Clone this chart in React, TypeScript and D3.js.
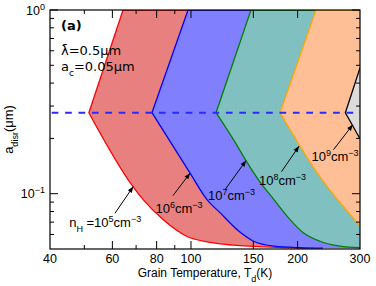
import React from 'react';
import * as d3 from 'd3';

// ---- data ----
const X_DOMAIN = [40, 300];
const Y_DOMAIN = [0.05, 1];
const X_TICK_LABELS = [40, 60, 80, 100, 150, 200, 300];
const X_MAJOR_TICKS = [60, 80, 100, 150, 200];
const X_MINOR_TICKS = [50, 70, 90];
const Y_MAJOR_TICKS = [0.1, 1];
const Y_MINOR_TICKS = [0.06, 0.07, 0.08, 0.09, 0.2, 0.3, 0.4, 0.5, 0.6, 0.7, 0.8, 0.9];
const A_DASH = 0.276;

// upper (straight) and lower (curved) parts of each boundary, [T, a]
const upper1e5 = [[64.3, 1], [51.5, 0.276]];
const lower1e5 = [[51.5, 0.276], [68.6, 0.1093], [73.3, 0.0929], [83.4, 0.0723], [97.5, 0.0585], [113.2, 0.0543], [131.4, 0.0525], [175, 0.0511], [210, 0.0507]];
const upper1e6 = [[98.1, 1], [77.6, 0.276]];
const lower1e6 = [[77.6, 0.276], [99.4, 0.1294], [111, 0.0929], [121.5, 0.0779], [135.8, 0.063], [149.7, 0.0553], [171.5, 0.0518], [203.1, 0.0508], [235.8, 0.0505]];
const upper1e7 = [[147.7, 1], [117.7, 0.276]];
const lower1e7 = [[117.7, 0.276], [133.4, 0.1895], [143, 0.1513], [155.6, 0.1178], [171.5, 0.0929], [190.4, 0.0723], [207.1, 0.0615], [231.3, 0.0551], [263.5, 0.0518], [300, 0.0508]];
const upper1e8 = [[225.3, 1], [178.4, 0.276]];
const lower1e8 = [[178.4, 0.276], [203.1, 0.1819], [231.3, 0.1233], [258.4, 0.0936], [279.3, 0.0785], [300, 0.0667]];
const upper1e9 = [[300, 0.4842], [272.8, 0.276]];
const lower1e9 = [[272.8, 0.276], [300, 0.1992]];

const REGIONS = [
  { up: upper1e5, low: lower1e5, fill: '#E88080', stroke: '#FF0000', closed: false },
  { up: upper1e6, low: lower1e6, fill: '#8080FF', stroke: '#0000FF', closed: false },
  { up: upper1e7, low: lower1e7, fill: '#80C0C0', stroke: '#008000', closed: false },
  { up: upper1e8, low: lower1e8, fill: '#FFBF96', stroke: '#FFA500', closed: false },
  { up: upper1e9, low: lower1e9, fill: '#DCDCDC', stroke: '#000000', closed: true },
];

// annotations: tail [T,a], head [T,a], label anchor [T,a], exponent
const ARROW_TAILS = [[61.0, 0.0782], [89.0, 0.0977], [124.8, 0.1053], [180.1, 0.1318], [252.5, 0.1736]];
const ARROW_HEADS = [[68.7, 0.1093], [99.4, 0.1294], [143, 0.1513], [201.8, 0.1814], [286.2, 0.2373]];
const LABEL_POS = [[45.3, 0.0655], [79.4, 0.0787], [111.7, 0.0929], [155.6, 0.112], [218.9, 0.1513]];
const LABEL_EXP = ['5', '6', '7', '8', '9'];

const SANS = 'Liberation Sans, Arial, Helvetica, sans-serif';
const DEJAVU = 'DejaVu Sans, sans-serif';

export default function App() {
  const W = 376, H = 286;
  const L = 50, R = 360, T = 10, B = 249;
  const x = d3.scaleLog().domain(X_DOMAIN).range([L, R]);
  const y = d3.scaleLog().domain(Y_DOMAIN).range([B, T]);

  const toPx = (pts: number[][]) => pts.map((p) => [x(p[0]), y(p[1])] as [number, number]);
  const straight = d3.line();
  const curved = d3.line().curve(d3.curveMonotoneX);

  const regionPaths = REGIONS.map((r) => {
    const up = toPx(r.up);
    const low = toPx(r.low);
    const upD = straight(up) as string;
    const lowD = (curved(low) as string).replace(/^M/, 'L');
    const last = low[low.length - 1];
    let fillD: string;
    let lineD: string;
    if (r.closed) {
      fillD = upD + lowD + 'Z';
      lineD = upD + lowD;
    } else {
      fillD = upD + lowD + `L${R},${last[1]}L${R},${T}Z`;
      lineD = `M${R},${T}` + upD.replace(/^M/, 'L') + lowD;
    }
    return { fillD, lineD, ...r };
  });

  const sup = (s: string) => (
    <tspan baselineShift="super" fontSize="9">{s}</tspan>
  );

  return (
    <svg width={W} height={H} style={{ display: 'block', position: 'absolute', left: 0, top: 0 }}>
      <defs>
        <clipPath id="plot">
          <rect x={L} y={T} width={R - L} height={B - T} />
        </clipPath>
        <marker id="ah" viewBox="0 0 10 10" refX="10" refY="5" markerWidth="7" markerHeight="6" markerUnits="userSpaceOnUse" orient="auto">
          <path d="M0,1 L10,5 L0,9 Z" fill="#000" />
        </marker>
      </defs>
      <rect width={W} height={H} fill="#fff" />
      <g clipPath="url(#plot)">
        {regionPaths.map((r, i) => (
          <g key={i}>
            <path d={r.fillD} fill={r.fill} stroke="none" />
            <path d={r.lineD} fill="none" stroke={r.stroke} strokeWidth={1.3} />
          </g>
        ))}
        <line x1={L} x2={R} y1={y(A_DASH)} y2={y(A_DASH)} stroke="#2A2AFF" strokeWidth={2} strokeDasharray="6.7,6.7" strokeDashoffset={-1.7} />
      </g>

      {/* arrows */}
      {ARROW_TAILS.map((t, i) => (
        <line key={i} x1={x(t[0])} y1={y(t[1])} x2={x(ARROW_HEADS[i][0])} y2={y(ARROW_HEADS[i][1])} stroke="#000" strokeWidth={1} markerEnd="url(#ah)" />
      ))}
      {LABEL_POS.map((p, i) => (
        <text key={i} x={x(p[0])} y={y(p[1])} fontFamily={SANS} fontSize={13} fill="#000">
          {i === 0 ? (
            <>
              n<tspan baselineShift="sub" fontSize="9">H</tspan> =10{sup(LABEL_EXP[i])}cm{sup('−3')}
            </>
          ) : (
            <>
              10{sup(LABEL_EXP[i])}cm{sup('−3')}
            </>
          )}
        </text>
      ))}

      {/* inset text */}
      <text x={61} y={30} fontFamily={DEJAVU} fontWeight="bold" fontSize={13}>(a)</text>
      <text x={61} y={55} fontFamily={DEJAVU} fontSize={13}>{'λ\u0304=0.5μm'}</text>
      <text x={61} y={71} fontFamily={DEJAVU} fontSize={13}>
        a<tspan baselineShift="sub" fontSize="9">c</tspan>=0.05μm
      </text>

      {/* frame */}
      <rect x={L} y={T} width={R - L} height={B - T} fill="none" stroke="#000" strokeWidth={1.2} />

      {/* x ticks */}
      {X_MAJOR_TICKS.map((v) => (
        <g key={'xm' + v}>
          <line x1={x(v)} x2={x(v)} y1={B} y2={B - 8} stroke="#000" strokeWidth={1} />
          <line x1={x(v)} x2={x(v)} y1={T} y2={T + 8} stroke="#000" strokeWidth={1} />
        </g>
      ))}
      {X_MINOR_TICKS.map((v) => (
        <g key={'xn' + v}>
          <line x1={x(v)} x2={x(v)} y1={B} y2={B - 4} stroke="#000" strokeWidth={1} />
          <line x1={x(v)} x2={x(v)} y1={T} y2={T + 4} stroke="#000" strokeWidth={1} />
        </g>
      ))}
      {X_TICK_LABELS.map((v) => (
        <text key={'xl' + v} x={x(v)} y={262.5} textAnchor="middle" fontFamily={SANS} fontSize={12.5}>{v}</text>
      ))}

      {/* y ticks */}
      {Y_MAJOR_TICKS.map((v) => (
        <g key={'ym' + v}>
          <line x1={L} x2={L + 8} y1={y(v)} y2={y(v)} stroke="#000" strokeWidth={1} />
          <line x1={R} x2={R - 8} y1={y(v)} y2={y(v)} stroke="#000" strokeWidth={1} />
        </g>
      ))}
      {Y_MINOR_TICKS.map((v) => (
        <g key={'yn' + v}>
          <line x1={L} x2={L + 4} y1={y(v)} y2={y(v)} stroke="#000" strokeWidth={1} />
          <line x1={R} x2={R - 4} y1={y(v)} y2={y(v)} stroke="#000" strokeWidth={1} />
        </g>
      ))}
      {Y_MAJOR_TICKS.map((v) => (
        <text key={'yl' + v} x={45} y={y(v) + 4.5} textAnchor="end" fontFamily={SANS} fontSize={12.5}>
          10{sup(String(Math.round(Math.log10(v))).replace('-', '−'))}
        </text>
      ))}

      {/* axis labels */}
      <text x={205} y={276.5} textAnchor="middle" fontFamily={SANS} fontSize={12}>
        Grain Temperature, T<tspan baselineShift="sub" fontSize="9">d</tspan>(K)
      </text>
      <text transform={`translate(13,${(T + B) / 2}) rotate(-90)`} textAnchor="middle" fontFamily={SANS} fontSize={13}>
        a<tspan baselineShift="sub" fontSize="9">disr</tspan>(μm)
      </text>
    </svg>
  );
}
